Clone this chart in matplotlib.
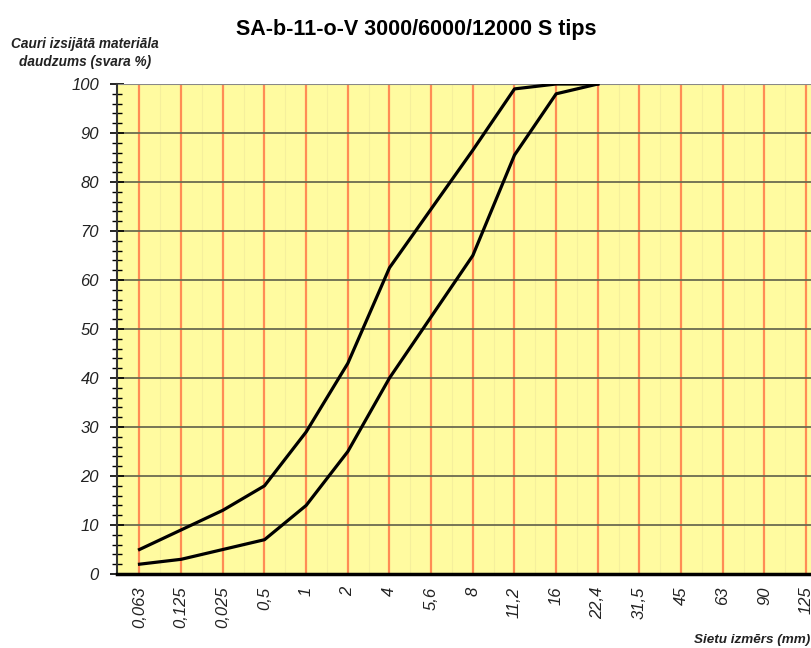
import matplotlib.pyplot as plt
import numpy as np

plt.rcParams["font.family"] = ["Liberation Sans", "DejaVu Sans"]

# Sieve sizes (categorical axis) and grading envelope
sieves = ["0,063", "0,125", "0,025", "0,5", "1", "2", "4", "5,6", "8",
          "11,2", "16", "22,4", "31,5", "45", "63", "90", "125"]
upper = [5, 9, 13, 18, 29, 43, 62.5, 74.5, 86.5, 99, 100, 100]
lower = [2, 3, 5, 7, 14, 25, 40, 52.5, 65, 85.5, 98, 100]

YELLOW = "#FFFBA0"
ORANGE = "#FF8C55"

fig = plt.figure(figsize=(8.12, 6.48), dpi=100)
ax = fig.add_axes([117 / 812, 1 - 574 / 648, 710 / 812, 490 / 648])
ax.set_facecolor(YELLOW)

x = np.arange(len(sieves))
ax.set_xlim(-0.54, len(sieves) - 0.5)
ax.set_ylim(0, 100)

# vertical sieve lines + horizontal grid
for xi in x:
    ax.axvline(xi, color=ORANGE, lw=1.6, zorder=1)
for xi in x[:-1]:
    ax.axvline(xi + 0.5, color="#F5EF9C", lw=0.8, zorder=0.5)
for yv in range(10, 101, 10):
    ax.axhline(yv, color="#6B6B50", lw=1.3, zorder=1.5)

ax.plot(x[:len(upper)], upper, color="black", lw=2.3, zorder=3)
ax.plot(x[:len(lower)], lower, color="black", lw=2.3, zorder=3)

ax.set_xticks(x)
ax.set_xticklabels(sieves, rotation=90, fontsize=12, style="italic", color="#222222")
ax.tick_params(axis="x", length=0, pad=9)

ax.set_yticks(range(0, 101, 10))
ax.set_yticks(range(0, 101, 2), minor=True)
ax.set_yticklabels([str(v) for v in range(0, 101, 10)], fontsize=12,
                   style="italic", color="#222222")
ax.tick_params(axis="y", which="major", direction="inout", length=10, width=1.2, pad=8)
ax.tick_params(axis="y", which="minor", direction="inout", length=7, width=1)

for side in ["top", "right"]:
    ax.spines[side].set_visible(False)
ax.spines["left"].set_color("#333333")
ax.spines["left"].set_linewidth(1.5)
ax.spines["bottom"].set_color("black")
ax.spines["bottom"].set_linewidth(2.5)
ax.axhline(100, color="#888888", lw=1.5, zorder=2)

fig.text(416 / 812, 1 - 30 / 648, "SA-b-11-o-V 3000/6000/12000 S tips",
         ha="center", va="center", fontsize=15.5, fontweight="bold")
fig.text(85 / 812, 1 - 53 / 648, "Cauri izsijātā materiāla\ndaudzums (svara %)",
         ha="center", va="center", fontsize=9.8, fontweight="bold",
         style="italic", linespacing=1.4, color="#222222")
fig.text(810 / 812, 1 - 640 / 648, "Sietu izmērs (mm)", ha="right", va="center",
         fontsize=9.7, fontweight="bold", style="italic", color="#222222")

fig.savefig("out.png", dpi=100)
